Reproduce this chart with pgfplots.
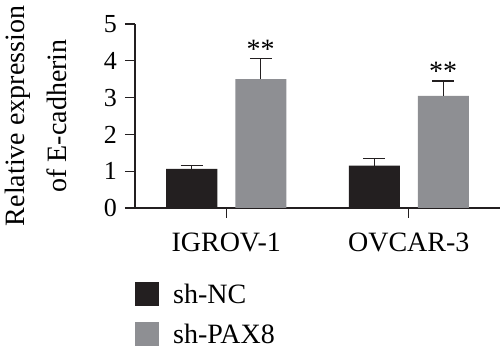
\documentclass[border=0pt]{standalone}
\usepackage{pgfplots}
\pgfplotsset{compat=1.18}
\usepackage{fontspec}
\setmainfont{Liberation Serif}
\definecolor{barblack}{HTML}{231F20}
\definecolor{bargrey}{HTML}{8E8F93}
\begin{document}
\begin{tikzpicture}
\begin{axis}[
  name=ax,
  at={(0,0)}, anchor=south west,
  scale only axis,
  width=365pt, height=184pt,
  xmin=-0.5, xmax=1.5,
  ymin=0, ymax=5,
  ybar=18pt, bar width=51pt,
  axis lines*=left,
  axis line style={line width=1.3pt, color=barblack},
  tick align=outside,
  xtick={0,1},
  xticklabels={IGROV-1,OVCAR-3},
  ytick={0,1,2,3,4,5},
  major tick length=10pt,
  tick style={line width=1.3pt, color=barblack},
  /pgf/number format/assume math mode=true,
  yticklabel style={font=\fontsize{26}{30}\selectfont, inner sep=0pt, xshift=-8pt},
  xticklabel style={font=\fontsize{28}{32}\selectfont, inner sep=0pt, yshift=-15pt},
  ylabel={Relative expression\\of E-cadherin},
  ylabel style={at={(axis description cs:-0.356,0.5)}, anchor=north,
    align=center, inner sep=0pt, font=\fontsize{28}{42}\selectfont},
  legend style={at={(axis description cs:0,-0.40)}, anchor=north west,
    draw=none, fill=none, inner sep=0pt, row sep=16pt,
    font=\fontsize{28}{32}\selectfont,
    nodes={inner sep=0pt, anchor=base west},
    /tikz/every odd column/.append style={column sep=14pt}},
  legend cell align=left,
  legend image code/.code={\fill[#1] (0pt,-2.5pt) rectangle (24pt,21.5pt);},
  error bars/y dir=plus, error bars/y explicit,
  error bars/error mark=|,
  error bars/error mark options={line width=1.3pt, mark size=11pt, color=barblack},
  error bars/error bar style={line width=1.3pt, color=barblack},
]
\addplot[fill=barblack, draw=none] coordinates {(0,1.06) +- (0,0.09) (1,1.15) +- (0,0.20)};
\addplot[fill=bargrey, draw=none] coordinates {(0,3.50) +- (0,0.56) (1,3.05) +- (0,0.40)};
\legend{sh-NC, sh-PAX8}
\node[anchor=base, inner sep=0pt, font=\fontsize{28}{32}\selectfont] at (axis cs:0.189,4.07) {**};
\node[anchor=base, inner sep=0pt, font=\fontsize{28}{32}\selectfont] at (axis cs:1.189,3.47) {**};
\end{axis}
\pgfresetboundingbox
\useasboundingbox (ax.south west) ++(-135pt,-144pt) rectangle ++(500pt,352pt);
\end{tikzpicture}
\end{document}
